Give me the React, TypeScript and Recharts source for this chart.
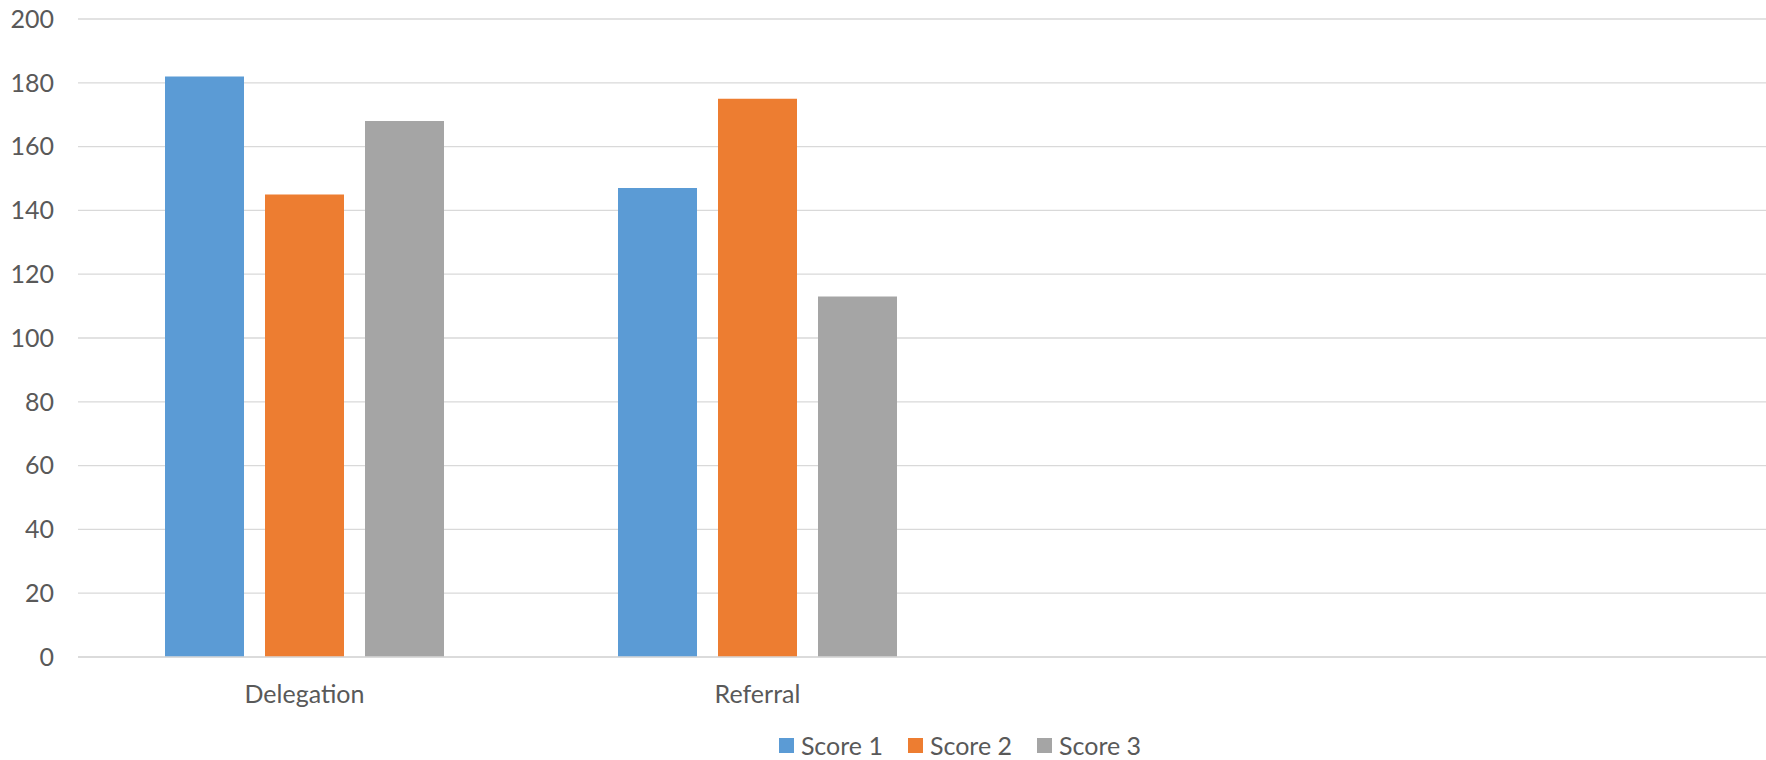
import { Bar, BarChart, CartesianGrid, Legend, XAxis, YAxis } from "recharts"

const categories = ["Delegation", "Referral", "", " "]
const score1 = [182, 147, null, null]
const score2 = [145, 175, null, null]
const score3 = [168, 113, null, null]
const seriesNames = ["Score 1", "Score 2", "Score 3"]
const seriesColors = ["#5B9BD5", "#ED7D31", "#A5A5A5"]
const yTicks = [0, 20, 40, 60, 80, 100, 120, 140, 160, 180, 200]

const data = categories.map((name, i) => ({
  name,
  s1: score1[i],
  s2: score2[i],
  s3: score3[i],
}))

const font = "Lato, 'Open Sans', sans-serif"
const textColor = "#595959"

// legend drawn by hand so spacing matches the Excel-style one
function ScoreLegend() {
  return (
    <div
      style={{
        height: 30,
        display: "flex",
        justifyContent: "center",
        alignItems: "center",
        gap: 25,
        fontSize: 25,
        color: textColor,
        fontFamily: font,
      }}
    >
      {seriesNames.map((n, i) => (
        <div key={n} style={{ display: "flex", alignItems: "center", gap: 7 }}>
          <span style={{ width: 15, height: 15, background: seriesColors[i], display: "inline-block" }} />
          <span>{n}</span>
        </div>
      ))}
    </div>
  )
}

export default function App() {
  return (
    <div
      style={{
        position: "absolute",
        top: 0,
        left: 0,
        width: 1766,
        height: 760,
        overflow: "hidden",
        background: "#fff",
        fontFamily: font,
      }}
    >
      <BarChart
        width={1920}
        height={760}
        data={data}
        margin={{ top: 19, right: 30, bottom: 0, left: 0 }}
        barSize={79}
        barGap={21}
      >
        <CartesianGrid vertical={false} stroke="#d9d9d9" strokeWidth={1.3} />
        <XAxis
          dataKey="name"
          height={73}
          axisLine={{ stroke: "#d9d9d9", strokeWidth: 1.3 }}
          tickLine={false}
          tickSize={0}
          tickMargin={28}
          tick={{ fill: textColor, fontSize: 25, fontFamily: font }}
          interval={0}
        />
        <YAxis
          width={78}
          domain={[0, 200]}
          ticks={yTicks}
          axisLine={false}
          tickLine={false}
          tickSize={0}
          tickMargin={24}
          tick={{ fill: textColor, fontSize: 25, fontFamily: font }}
        />
        <Legend verticalAlign="bottom" content={<ScoreLegend />} wrapperStyle={{ bottom: 0, width: 1920, left: 0 }} />
        <Bar dataKey="s1" name={seriesNames[0]} fill={seriesColors[0]} isAnimationActive={false} />
        <Bar dataKey="s2" name={seriesNames[1]} fill={seriesColors[1]} isAnimationActive={false} />
        <Bar dataKey="s3" name={seriesNames[2]} fill={seriesColors[2]} isAnimationActive={false} />
      </BarChart>
    </div>
  )
}
